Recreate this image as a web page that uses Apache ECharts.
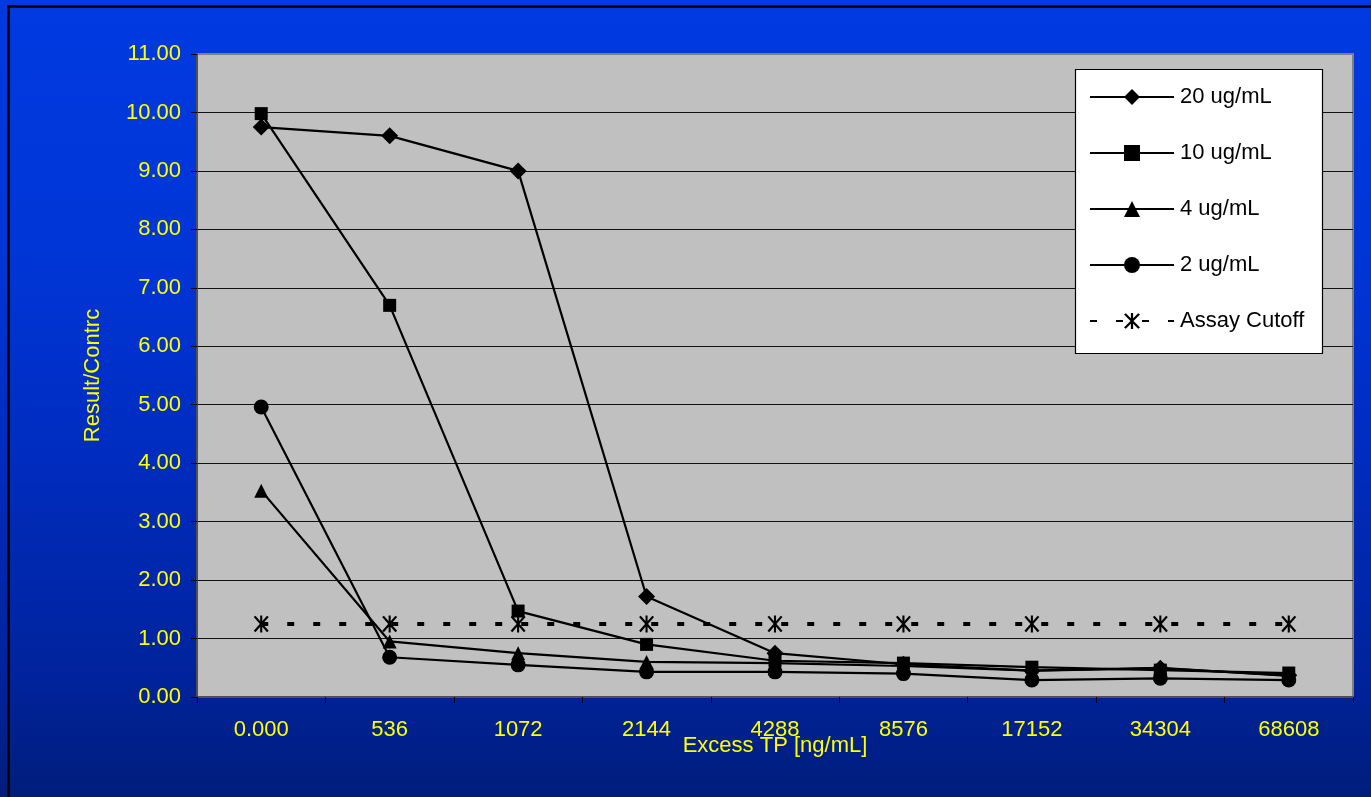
<!DOCTYPE html>
<html>
<head>
<meta charset="utf-8">
<script src="https://cdn.jsdelivr.net/npm/echarts@6/dist/echarts.min.js"></script>
<style>
  html, body { margin: 0; padding: 0; width: 1371px; height: 797px; overflow: hidden; }
  #chart { width: 1371px; height: 797px; }
</style>
</head>
<body>
<div id="chart"></div>
<script>
// Excess TP concentration steps (x categories)
const categories = ['0.000', '536', '1072', '2144', '4288', '8576', '17152', '34304', '68608'];

// Result/Control ratios per antibody concentration
const conc20 = [9.75, 9.60, 9.00, 1.72, 0.75, 0.56, 0.45, 0.49, 0.37];
const conc10 = [9.98, 6.70, 1.47, 0.90, 0.62, 0.58, 0.51, 0.46, 0.41];
const conc4  = [3.53, 0.95, 0.75, 0.60, 0.58, 0.53, 0.45, 0.50, 0.36];
const conc2  = [4.96, 0.68, 0.55, 0.43, 0.43, 0.40, 0.29, 0.32, 0.29];
const cutoff = [1.25, 1.25, 1.25, 1.25, 1.25, 1.25, 1.25, 1.25, 1.25];

const seriesNames = ['20 ug/mL', '10 ug/mL', '4 ug/mL', '2 ug/mL', 'Assay Cutoff'];

// Y axis range
const yMin = 0, yMax = 11, yStep = 1;

const FONT = 'Liberation Sans, Arial, sans-serif';
const YELLOW = '#ffff00';

// Asterisk marker: vertical bar plus two diagonal bars
const asterisk = 'path://' +
  'M-1.1,-9 L1.1,-9 L1.1,9 L-1.1,9 Z ' +
  'M-6.1,-8.79 L7.9,7.21 L6.1,8.79 L-7.9,-7.21 Z ' +
  'M7.9,-7.21 L-6.1,8.79 L-7.9,7.21 L6.1,-8.79 Z';

function lineSeries(name, data, symbol, size) {
  return {
    name: name,
    type: 'line',
    data: data,
    symbol: symbol,
    symbolSize: size,
    showAllSymbol: true,
    animation: false,
    itemStyle: { color: '#000' },
    lineStyle: { color: '#000', width: 2.2 },
    emphasis: { disabled: true }
  };
}

const chart = echarts.init(document.getElementById('chart'), null, { renderer: 'canvas' });

chart.setOption({
  animation: false,
  backgroundColor: {
    type: 'linear', x: 0, y: 0, x2: 0, y2: 1,
    colorStops: [
      { offset: 0, color: '#003ae0' },
      { offset: 0.3, color: '#0036d8' },
      { offset: 0.55, color: '#002dc2' },
      { offset: 0.85, color: '#00239c' },
      { offset: 1, color: '#001d7a' }
    ]
  },
  graphic: [
    // outer frame (left and top edges visible)
    { type: 'rect', z: 100, silent: true,
      shape: { x: 8.5, y: 6.5, width: 1400, height: 900 },
      style: { fill: null, stroke: '#000', lineWidth: 2.5 } },
    // legend box
    { type: 'rect', z: 50, silent: true,
      shape: { x: 1075.5, y: 69.5, width: 247, height: 284 },
      style: { fill: '#fff', stroke: '#000', lineWidth: 1.2 } }
  ],
  grid: {
    left: 197, top: 54, right: 18, bottom: 100,
    show: true,
    backgroundColor: '#c0c0c0',
    borderColor: '#808080',
    borderWidth: 2
  },
  legend: {
    orient: 'vertical',
    left: 1089,
    top: 86,
    padding: 0,
    itemWidth: 84,
    itemHeight: 20,
    itemGap: 34,
    z: 60,
    selectedMode: false,
    data: seriesNames,
    textStyle: { color: '#000', fontFamily: FONT, fontSize: 22, lineHeight: 22, padding: [0, 0, 0, 1] }
  },
  xAxis: {
    type: 'category',
    data: categories,
    boundaryGap: true,
    name: 'Excess TP [ng/mL]',
    nameLocation: 'middle',
    nameGap: 49,
    nameMoveOverlap: false,
    nameTextStyle: { color: YELLOW, fontFamily: FONT, fontSize: 22, verticalAlign: 'middle' },
    axisLine: { show: true, lineStyle: { color: '#404040', width: 1.5 } },
    axisTick: { show: true, alignWithLabel: false, length: 6, lineStyle: { color: '#000', width: 1 } },
    axisLabel: { color: YELLOW, fontFamily: FONT, fontSize: 22, margin: 22 },
    splitLine: { show: false }
  },
  yAxis: {
    type: 'value',
    min: yMin, max: yMax, interval: yStep,
    name: 'Result/Contrc',
    nameLocation: 'middle',
    nameGap: 104,
    nameRotate: 90,
    nameMoveOverlap: false,
    nameTextStyle: { color: YELLOW, fontFamily: FONT, fontSize: 22, verticalAlign: 'middle' },
    axisLine: { show: true, lineStyle: { color: '#404040', width: 1.5 } },
    axisTick: { show: true, length: 6, lineStyle: { color: '#000', width: 1 } },
    axisLabel: {
      color: YELLOW, fontFamily: FONT, fontSize: 22, margin: 16,
      formatter: v => v.toFixed(2)
    },
    splitLine: { show: true, showMinLine: false, showMaxLine: false, lineStyle: { color: '#111', width: 1 } }
  },
  series: [
    lineSeries(seriesNames[0], conc20, 'diamond', 17),
    lineSeries(seriesNames[1], conc10, 'rect', 13),
    lineSeries(seriesNames[2], conc4, 'triangle', 14),
    lineSeries(seriesNames[3], conc2, 'circle', 15),
    {
      name: seriesNames[4],
      type: 'line',
      data: cutoff,
      symbol: asterisk,
      symbolSize: [15, 17],
      showAllSymbol: true,
      animation: false,
      itemStyle: { color: '#000' },
      lineStyle: { color: '#000', width: 4, type: [7, 19] },
      emphasis: { disabled: true }
    }
  ]
});
</script>
</body>
</html>
